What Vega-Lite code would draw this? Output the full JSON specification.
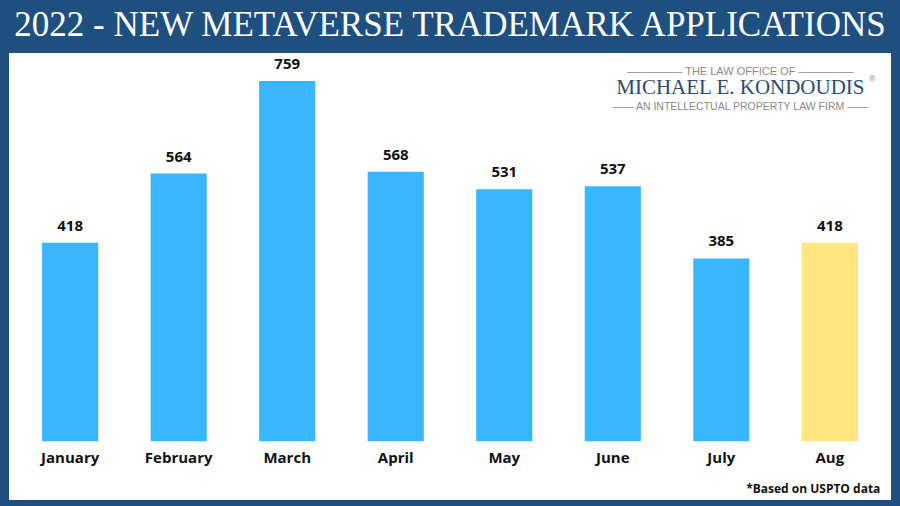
{
  "$schema": "https://vega.github.io/schema/vega-lite/v6.json",
  "width": 900,
  "height": 506,
  "autosize": {"type": "fit", "contains": "padding"},
  "padding": {"left": 9, "right": 9, "top": 8, "bottom": 6},
  "background": "#1f4f7f",
  "title": {
    "text": "2022 - NEW METAVERSE TRADEMARK APPLICATIONS",
    "font": "Liberation Serif",
    "fontSize": 35,
    "fontWeight": "normal",
    "color": "white",
    "anchor": "middle",
    "offset": 10
  },
  "config": {"view": {"fill": "white", "stroke": null}},
  "data": {
    "values": [
      {"month": "January", "value": 418},
      {"month": "February", "value": 564},
      {"month": "March", "value": 759},
      {"month": "April", "value": 568},
      {"month": "May", "value": 531},
      {"month": "June", "value": 537},
      {"month": "July", "value": 385},
      {"month": "Aug", "value": 418}
    ]
  },
  "encoding": {
    "x": {
      "field": "month",
      "type": "nominal",
      "sort": null,
      "scale": {"paddingInner": 0.483, "paddingOuter": 0.305},
      "axis": {
        "title": null,
        "orient": "bottom",
        "offset": -59,
        "domain": false,
        "ticks": false,
        "labelAngle": 0,
        "labelFont": "Open Sans",
        "labelFontSize": 15,
        "labelFontWeight": "bold",
        "labelColor": "#111111",
        "labelPadding": 9
      }
    }
  },
  "layer": [
    {
      "mark": {"type": "bar"},
      "encoding": {
        "y": {"field": "value", "type": "quantitative", "scale": {"domain": [-124, 818], "nice": false, "zero": false}, "axis": null},
        "y2": {"datum": 0},
        "color": {
          "condition": {"test": "datum.month === 'Aug'", "value": "#ffe680"},
          "value": "#38b6ff"
        }
      }
    },
    {
      "mark": {"type": "text", "font": "Open Sans", "fontSize": 15, "fontWeight": "bold", "color": "#111111", "baseline": "alphabetic", "dy": -12},
      "encoding": {
        "y": {"field": "value", "type": "quantitative"},
        "text": {"field": "value", "type": "quantitative"}
      }
    },
    {
      "data": {"values": [{"line": "————— THE LAW OFFICE OF —————"}]},
      "mark": {"type": "text", "font": "Liberation Sans", "fontSize": 11, "color": "#8a8a8a", "align": "center", "baseline": "middle"},
      "encoding": {
        "x": {"datum": "July", "bandPosition": 0.84},
        "y": {"datum": 779},
        "text": {"field": "line"}
      }
    },
    {
      "data": {"values": [{"line": "MICHAEL E. KONDOUDIS"}]},
      "mark": {"type": "text", "font": "Liberation Serif", "fontSize": 21, "color": "#2b4c74", "align": "center", "baseline": "middle"},
      "encoding": {
        "x": {"datum": "July", "bandPosition": 0.84},
        "y": {"datum": 744},
        "text": {"field": "line"}
      }
    },
    {
      "data": {"values": [{"line": "®"}]},
      "mark": {"type": "text", "font": "Liberation Sans", "fontSize": 9, "color": "#8a8a8a", "align": "left", "baseline": "middle"},
      "encoding": {
        "x": {"datum": "Aug", "bandPosition": 1.2},
        "y": {"datum": 764},
        "text": {"field": "line"}
      }
    },
    {
      "data": {"values": [{"line": "—— AN INTELLECTUAL PROPERTY LAW FIRM ——"}]},
      "mark": {"type": "text", "font": "Liberation Sans", "fontSize": 10.5, "color": "#8a8a8a", "align": "center", "baseline": "middle"},
      "encoding": {
        "x": {"datum": "July", "bandPosition": 0.84},
        "y": {"datum": 705},
        "text": {"field": "line"}
      }
    },
    {
      "data": {"values": [{"line": "*Based on USPTO data"}]},
      "mark": {"type": "text", "font": "Open Sans", "fontSize": 12, "fontWeight": "bold", "color": "#111111", "align": "right", "baseline": "middle"},
      "encoding": {
        "x": {"datum": "Aug", "bandPosition": 1.4},
        "y": {"datum": -101},
        "text": {"field": "line"}
      }
    }
  ]
}
